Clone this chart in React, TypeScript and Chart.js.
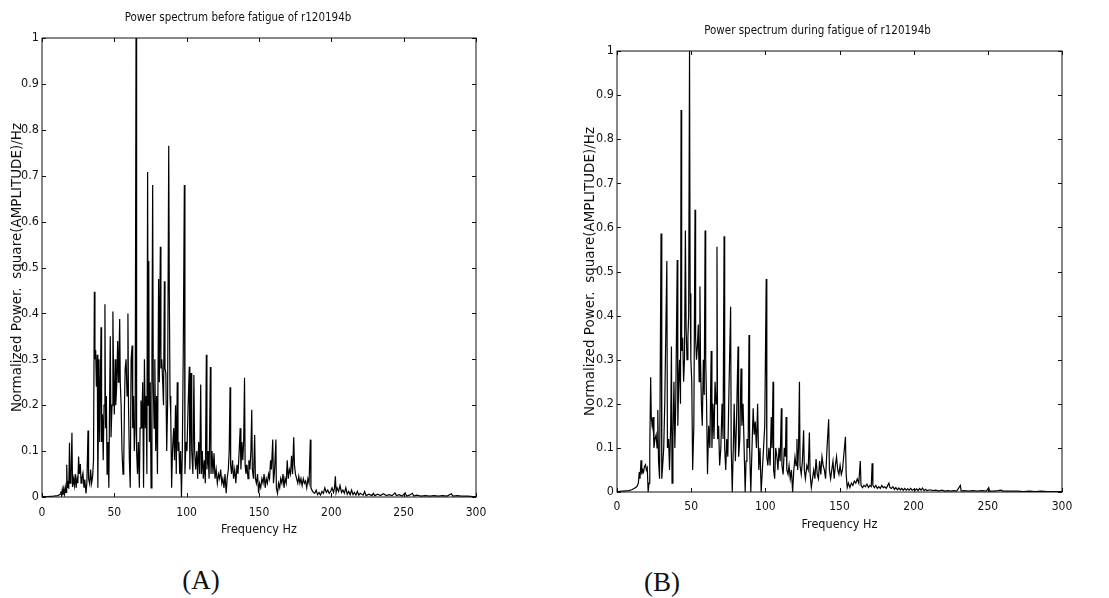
import React, { useEffect, useRef } from "react";
import { Chart, registerables } from "chart.js";

Chart.register(...registerables);

// ---------- text ----------
const titleA = "Power spectrum before fatigue of r120194b";
const titleB = "Power spectrum during fatigue of r120194b";
const xAxisTitle = "Frequency Hz";
const yAxisTitle = "Normalized Power.  square(AMPLITUDE)/Hz";
const captionA = "(A)";
const captionB = "(B)";

// ---------- tick values ----------
const xTickValues = [0, 50, 100, 150, 200, 250, 300];
const yTickValues = [0, 0.1, 0.2, 0.3, 0.4, 0.5, 0.6, 0.7, 0.8, 0.9, 1];

// ---------- spectrum A (before fatigue): frequency (Hz) / normalized power ----------
const freqA = [
  0, 4, 8, 11, 12.5, 13, 13.5, 14, 14.5, 15,
  15.6, 16.1, 16.6, 17.1, 17.5, 18, 18.5, 19, 19.4, 20,
  20.7, 21.1, 21.8, 22.4, 23, 23.6, 24.2, 24.8, 25.3, 25.8,
  26.5, 27, 27.6, 28.3, 29, 29.6, 30.4, 31, 31.8, 32.2,
  33, 33.6, 34.3, 35, 35.6, 36.2, 36.6, 37.1, 37.6, 38.2,
  38.6, 39.4, 39.9, 40.8, 41.2, 41.8, 42.3, 42.9, 43.5, 43.9,
  44.5, 45, 45.6, 46.2, 46.7, 47.2, 47.7, 48.4, 49, 49.5,
  50, 50.6, 51, 51.6, 52.3, 52.8, 53.2, 53.7, 54.1, 54.7,
  55.3, 56, 56.5, 57, 57.5, 58.1, 58.8, 59.4, 59.8, 60.4,
  61, 61.6, 62.3, 62.7, 63.3, 63.8, 64.4, 65, 65.4, 66,
  66.6, 67.3, 67.8, 68.4, 69, 69.6, 70.2, 70.8, 71.4, 72,
  72.5, 73, 73.4, 73.8, 74.2, 74.8, 75.4, 76, 76.5, 76.9,
  77.5, 78, 78.6, 79.2, 79.8, 80.6, 81.1, 81.8, 82.2, 82.8,
  83.3, 84, 84.6, 85, 85.6, 86.2, 86.8, 87.6, 88, 88.5,
  89, 89.6, 90.2, 91, 91.6, 92.3, 92.8, 93.5, 94, 94.6,
  95.2, 95.8, 96.4, 97, 97.6, 98.4, 98.8, 99.5, 100.2, 101,
  101.8, 102.2, 102.6, 103, 103.5, 104.3, 105, 105.5, 106.2, 107,
  107.6, 108.3, 109, 109.7, 110.2, 110.8, 111.5, 112.2, 112.9, 113.6,
  114, 114.8, 115.5, 116.4, 116.8, 117.5, 118.2, 118.9, 119.6, 120.4,
  121.2, 122, 122.8, 123.5, 124.3, 125, 125.8, 126.5, 127.3, 128,
  128.8, 129.4, 130, 130.4, 131, 131.7, 132.4, 133.2, 134, 134.8,
  135.5, 136.3, 137, 137.5, 138.2, 138.8, 139.4, 140, 140.4, 141,
  141.7, 142.4, 143, 143.7, 144.4, 145, 145.4, 146.2, 147, 147.5,
  148.2, 149, 149.7, 150.4, 151.2, 152, 152.8, 153.5, 154.3, 155,
  155.8, 156.6, 157.3, 158, 158.6, 159.5, 160, 160.8, 161.7, 162,
  162.8, 163.5, 164.3, 165, 165.8, 166.6, 167.3, 168, 168.8, 169.5,
  170.2, 171, 171.8, 172.5, 173.2, 174, 174.5, 175.2, 176, 176.8,
  177.5, 178.3, 179, 179.8, 180.6, 181.4, 182.2, 183, 183.8, 184.6,
  185.5, 185.9, 186.6, 187.5, 188.5, 189.5, 190.5, 191.5, 192.5, 193.5,
  194.5, 195.5, 196.5, 197.5, 198.5, 199.5, 200.5, 201.5, 202.2, 202.8,
  203.3, 204, 205, 206, 207, 208, 209, 210, 211, 212,
  213, 214, 215, 216, 217, 218, 219, 220, 222, 223,
  224, 226, 228, 229, 230, 232, 234, 236, 238, 240,
  242, 244, 245, 247, 249, 251, 252, 254, 256, 257,
  259, 262, 265, 268, 271, 274, 277, 280, 283, 284,
  287, 290, 294, 298, 300,
];
const powerA = [
  0.001, 0.001, 0.002, 0.003, 0.006, 0.012, 0.003, 0.016, 0.004, 0.018,
  0.006, 0.022, 0.01, 0.07, 0.02, 0.035, 0.018, 0.118, 0.03, 0.042,
  0.14, 0.022, 0.04, 0.025, 0.05, 0.02, 0.04, 0.03, 0.088, 0.05,
  0.072, 0.03, 0.042, 0.052, 0.02, 0.038, 0.008, 0.03, 0.145, 0.04,
  0.028, 0.06, 0.03, 0.045, 0.08, 0.447, 0.3, 0.32, 0.24, 0.31,
  0.02, 0.3, 0.12, 0.37, 0.12, 0.18, 0.08, 0.2, 0.42, 0.15,
  0.22, 0.05, 0.12, 0.02, 0.2, 0.35, 0.13, 0.2, 0.404, 0.25,
  0.18, 0.3, 0.2, 0.24, 0.34, 0.25, 0.3, 0.388, 0.25, 0.2,
  0.1, 0.05, 0.07, 0.2, 0.28, 0.3, 0.22, 0.4, 0.2, 0.08,
  0.02, 0.3, 0.33, 0.15, 0.22, 0.1, 0.15, 1.0, 0.1, 0.05,
  0.12, 0.02, 0.15, 0.21, 0.15, 0.25, 0.02, 0.3, 0.15, 0.22,
  0.05, 0.708, 0.2, 0.514, 0.12, 0.25, 0.02, 0.3, 0.68, 0.25,
  0.15, 0.3, 0.1, 0.22, 0.05, 0.475, 0.25, 0.545, 0.28, 0.3,
  0.26, 0.2, 0.47, 0.28, 0.27, 0.1, 0.2, 0.765, 0.45, 0.22,
  0.18, 0.02, 0.1, 0.15, 0.08, 0.2, 0.05, 0.25, 0.1, 0.12,
  0.05, 0.1, 0.0, 0.1, 0.3, 0.68, 0.05, 0.12, 0.1, 0.2,
  0.284, 0.06, 0.15, 0.27, 0.1, 0.05, 0.266, 0.1, 0.06, 0.1,
  0.04, 0.12, 0.05, 0.245, 0.05, 0.1, 0.04, 0.08, 0.03, 0.31,
  0.06, 0.1, 0.04, 0.283, 0.05, 0.1, 0.05, 0.095, 0.04, 0.06,
  0.03, 0.05, 0.04, 0.06, 0.03, 0.04, 0.02, 0.05, 0.008, 0.04,
  0.06, 0.1, 0.239, 0.07, 0.05, 0.08, 0.04, 0.06, 0.03, 0.07,
  0.05, 0.1, 0.15, 0.06, 0.12, 0.08, 0.12, 0.26, 0.07, 0.05,
  0.07, 0.04, 0.08, 0.06, 0.1, 0.19, 0.06, 0.04, 0.135, 0.04,
  0.03, 0.05, 0.008, 0.03, 0.02, 0.04, 0.03, 0.05, 0.02, 0.04,
  0.03, 0.05, 0.04, 0.08, 0.06, 0.125, 0.03, 0.06, 0.125, 0.02,
  0.008, 0.03, 0.02, 0.04, 0.03, 0.05, 0.02, 0.04, 0.03, 0.08,
  0.04, 0.06, 0.05, 0.09, 0.05, 0.13, 0.07, 0.05, 0.04, 0.03,
  0.045, 0.03, 0.04, 0.025, 0.04, 0.03, 0.035, 0.02, 0.04, 0.03,
  0.125, 0.02, 0.015, 0.01, 0.008, 0.015, 0.005, 0.01, 0.004, 0.012,
  0.008, 0.02, 0.01, 0.015, 0.008, 0.012, 0.02, 0.01, 0.02, 0.045,
  0.01, 0.02, 0.012, 0.025, 0.01, 0.015, 0.008, 0.02, 0.006, 0.012,
  0.005, 0.015, 0.005, 0.01, 0.004, 0.012, 0.004, 0.008, 0.004, 0.012,
  0.003, 0.006, 0.003, 0.008, 0.003, 0.006, 0.003, 0.007, 0.003, 0.005,
  0.003, 0.009, 0.003, 0.005, 0.002, 0.009, 0.002, 0.004, 0.008, 0.002,
  0.004, 0.002, 0.003, 0.002, 0.003, 0.002, 0.003, 0.002, 0.007, 0.002,
  0.003, 0.002, 0.002, 0.001, 0.001,
];

// ---------- spectrum B (during fatigue): frequency (Hz) / normalized power ----------
const freqB = [
  0, 4, 8, 10, 11.5, 12.5, 13.5, 14.4, 15, 15.5,
  16.2, 16.7, 17.3, 17.9, 18.5, 19.2, 19.8, 20.4, 21, 21.6,
  22.1, 22.7, 23.1, 23.7, 24.3, 24.9, 25.6, 26.4, 27, 27.5,
  28, 28.7, 29.7, 30.2, 30.8, 31.5, 32.2, 33.6, 34, 34.8,
  35.4, 36.2, 36.7, 37.1, 37.7, 38.4, 39, 39.6, 40.6, 41,
  41.6, 42.2, 42.8, 43.2, 43.6, 44.3, 44.9, 45.5, 46.1, 46.6,
  47.2, 47.8, 48.3, 48.9, 49.3, 49.8, 50.4, 51, 51.8, 52.6,
  53, 53.6, 54.2, 54.8, 55.4, 55.9, 56.3, 56.9, 57.5, 58.2,
  58.8, 59.4, 59.8, 60.4, 61, 61.8, 62.6, 63.5, 64, 64.7,
  65.4, 66.1, 66.8, 67.4, 67.8, 68.5, 69.2, 70, 70.8, 71.5,
  72.2, 72.6, 73.3, 74, 74.7, 75.3, 76.6, 77, 77.7, 78.4,
  79, 79.8, 80.5, 81.6, 82, 82.8, 83.6, 84.2, 85, 86.4,
  87, 87.6, 88.4, 89, 89.4, 90.2, 91, 91.8, 92.5, 93.2,
  94, 94.8, 95.6, 96.4, 97.2, 98, 98.8, 99.6, 100.6, 101,
  101.7, 102.4, 103.2, 104, 104.5, 105.2, 105.6, 106.3, 107, 107.8,
  108.5, 109.2, 110, 110.8, 111.2, 112, 112.8, 113.5, 114, 114.5,
  115.3, 116, 116.8, 117.6, 118.4, 119.2, 120, 120.7, 121.3, 121.8,
  122.4, 123, 123.4, 124.2, 125, 125.8, 126.3, 127, 128, 128.9,
  129.7, 130.2, 131, 131.8, 132.6, 133.4, 134.2, 135, 135.8, 136.6,
  137.4, 138.2, 139, 139.8, 140.6, 141.6, 142.7, 143.2, 144, 144.8,
  145.6, 146.4, 147.2, 148, 148.8, 149.6, 150.4, 151.2, 152, 152.8,
  154, 154.5, 155.2, 156, 157, 158, 159, 160, 161, 162,
  163, 164, 164.5, 165.5, 166.5, 167.5, 168.5, 169.5, 170.5, 171.4,
  172, 172.5, 173.5, 174.5, 175.5, 176.5, 177.5, 178.5, 179.5, 180.5,
  181.5, 182.5, 183.3, 184, 185, 186, 187, 188, 189, 190,
  191, 192, 193, 194, 195, 196, 197, 198, 199, 200,
  201, 202, 203, 204, 205, 206, 207, 208, 209, 211,
  213, 215, 217, 219, 221, 223, 225, 227, 229, 231.5,
  232, 234, 237, 240, 243, 246, 249, 250.6, 251.2, 254,
  257, 259, 260, 263, 266, 270, 274, 278, 282, 286,
  290, 294, 297, 300,
];
const powerB = [
  0.001, 0.002, 0.003, 0.005, 0.008, 0.01, 0.013, 0.02, 0.045, 0.03,
  0.072, 0.04, 0.05, 0.045, 0.058, 0.062, 0.05, 0.055, 0.0, 0.02,
  0.1, 0.26, 0.17, 0.15, 0.17, 0.1, 0.12, 0.13, 0.1, 0.186,
  0.07, 0.03, 0.586, 0.03, 0.06, 0.1, 0.2, 0.524, 0.1, 0.12,
  0.05, 0.15, 0.33, 0.02, 0.12, 0.25, 0.1, 0.2, 0.526, 0.15,
  0.25, 0.3, 0.2, 0.866, 0.32, 0.35, 0.25, 0.3, 0.593, 0.37,
  0.3, 0.35, 0.4, 1.0, 0.45, 0.3, 0.25, 0.05, 0.15, 0.64,
  0.35, 0.3, 0.33, 0.38, 0.25, 0.466, 0.3, 0.2, 0.15, 0.3,
  0.22, 0.593, 0.3, 0.2, 0.04, 0.15, 0.1, 0.32, 0.1, 0.2,
  0.12, 0.25, 0.2, 0.556, 0.12, 0.15, 0.06, 0.1, 0.2, 0.12,
  0.58, 0.1, 0.05, 0.12, 0.08, 0.2, 0.42, 0.1, 0.0, 0.1,
  0.2, 0.07, 0.15, 0.33, 0.08, 0.12, 0.28, 0.15, 0.2, 0.0,
  0.07, 0.12, 0.1, 0.356, 0.1, 0.0, 0.1, 0.19, 0.13, 0.16,
  0.1, 0.2, 0.05, 0.1, 0.0, 0.05, 0.1, 0.15, 0.483, 0.08,
  0.06, 0.1, 0.06, 0.17, 0.1, 0.25, 0.05, 0.03, 0.1, 0.08,
  0.05, 0.1, 0.07, 0.19, 0.06, 0.04, 0.1, 0.08, 0.17, 0.05,
  0.04, 0.06, 0.03, 0.05, 0.0, 0.05, 0.08, 0.06, 0.12, 0.05,
  0.1, 0.25, 0.06, 0.04, 0.07, 0.14, 0.05, 0.03, 0.06, 0.05,
  0.135, 0.04, 0.01, 0.03, 0.05, 0.03, 0.075, 0.04, 0.03, 0.07,
  0.04, 0.08, 0.06, 0.05, 0.03, 0.1, 0.165, 0.05, 0.03, 0.05,
  0.07, 0.03, 0.06, 0.08, 0.05, 0.04, 0.06, 0.04, 0.05, 0.08,
  0.125, 0.04, 0.01, 0.02, 0.01, 0.02, 0.015, 0.025, 0.02, 0.03,
  0.02, 0.07, 0.015, 0.01, 0.015, 0.012, 0.018, 0.01, 0.015, 0.012,
  0.065, 0.015, 0.01, 0.015, 0.008, 0.012, 0.008, 0.015, 0.01, 0.012,
  0.008, 0.015, 0.02, 0.01, 0.008, 0.012, 0.006, 0.01, 0.005, 0.009,
  0.005, 0.008, 0.004, 0.008, 0.004, 0.007, 0.004, 0.008, 0.004, 0.006,
  0.004, 0.007, 0.003, 0.008, 0.004, 0.009, 0.003, 0.006, 0.003, 0.005,
  0.003, 0.004, 0.002, 0.004, 0.002, 0.003, 0.002, 0.003, 0.002, 0.015,
  0.002, 0.003, 0.002, 0.003, 0.002, 0.003, 0.002, 0.01, 0.002, 0.002,
  0.003, 0.004, 0.002, 0.002, 0.002, 0.002, 0.001, 0.002, 0.001, 0.002,
  0.001, 0.001, 0.001, 0.001,
];

// ---------- styling ----------
const NARROW = '"Liberation Sans Narrow", "DejaVu Sans Condensed", "Liberation Sans", Arial, sans-serif';
const WIDE = '"DejaVu Sans", "Liberation Sans", Arial, sans-serif';
const INK = "#111";

const formatTick = (v: number | string) => String(Math.round(Number(v) * 10) / 10);

const framePlugin = {
  id: "matlabFrame",
  afterDatasetsDraw(chart: any) {
    const { ctx, chartArea, scales } = chart;
    const { left, right, top, bottom } = chartArea;
    const xs = scales.x;
    const ys = scales.y;
    const tl = 4;
    ctx.save();
    ctx.strokeStyle = INK;
    ctx.lineWidth = 1;
    ctx.strokeRect(left, top, right - left, bottom - top);
    ctx.beginPath();
    xTickValues.forEach((v) => {
      const px = Math.round(xs.getPixelForValue(v)) + 0.5;
      ctx.moveTo(px, bottom);
      ctx.lineTo(px, bottom - tl);
      ctx.moveTo(px, top);
      ctx.lineTo(px, top + tl);
    });
    yTickValues.forEach((v) => {
      const py = Math.round(ys.getPixelForValue(v)) + 0.5;
      ctx.moveTo(left, py);
      ctx.lineTo(left + tl, py);
      ctx.moveTo(right, py);
      ctx.lineTo(right - tl, py);
    });
    ctx.stroke();
    ctx.restore();
  },
};

type Geometry = {
  yWidth: number;
  xHeight: number;
  padRight: number;
  titleTop: number;
  titleBottom: number;
  yTitlePad: number;
  xTitlePad: number;
  xTickPad: number;
};

function SpectrumChart(props: {
  freq: number[];
  power: number[];
  title: string;
  geo: Geometry;
  box: { left: number; top: number; width: number; height: number };
}) {
  const ref = useRef<HTMLCanvasElement | null>(null);
  const { freq, power, title, geo, box } = props;

  useEffect(() => {
    if (!ref.current) return;
    const points = freq.map((f, i) => ({ x: f, y: power[i] }));
    const chart = new Chart(ref.current, {
      type: "line",
      data: {
        datasets: [
          {
            data: points,
            borderColor: "#000",
            borderWidth: 1.2,
            pointRadius: 0,
            tension: 0,
            fill: false,
          },
        ],
      },
      options: {
        animation: false,
        responsive: true,
        maintainAspectRatio: false,
        layout: { padding: { left: 0, right: geo.padRight, top: 0, bottom: 0 } },
        plugins: {
          legend: { display: false },
          tooltip: { enabled: false },
          title: {
            display: true,
            text: title,
            color: INK,
            font: { family: NARROW, size: 11.5, weight: "normal" },
            padding: { top: geo.titleTop, bottom: geo.titleBottom },
          },
        },
        scales: {
          x: {
            type: "linear",
            min: 0,
            max: 300,
            afterFit: (s: any) => {
              s.height = geo.xHeight;
            },
            afterBuildTicks: (s: any) => {
              s.ticks = xTickValues.map((v) => ({ value: v }));
            },
            grid: { display: false, drawTicks: false },
            border: { display: false },
            ticks: {
              color: INK,
              padding: geo.xTickPad,
              maxRotation: 0,
              autoSkip: false,
              callback: formatTick,
              font: { family: NARROW, size: 12 },
            },
            title: {
              display: true,
              text: xAxisTitle,
              color: INK,
              font: { family: NARROW, size: 12.5 },
              padding: { top: 0, bottom: geo.xTitlePad },
            },
          },
          y: {
            type: "linear",
            min: 0,
            max: 1,
            afterFit: (s: any) => {
              s.width = geo.yWidth;
            },
            afterBuildTicks: (s: any) => {
              s.ticks = yTickValues.map((v) => ({ value: v }));
            },
            grid: { display: false, drawTicks: false },
            border: { display: false },
            ticks: {
              color: INK,
              padding: 3,
              autoSkip: false,
              callback: formatTick,
              font: { family: NARROW, size: 12.5 },
            },
            title: {
              display: true,
              text: yAxisTitle,
              color: INK,
              font: { family: WIDE, size: 13.5 },
              padding: { top: geo.yTitlePad, bottom: 0 },
            },
          },
        },
      },
      plugins: [framePlugin],
    } as any);
    return () => chart.destroy();
  }, []);

  return (
    <div
      style={{
        position: "absolute",
        left: box.left,
        top: box.top,
        width: box.width,
        height: box.height,
      }}
    >
      <canvas ref={ref} />
    </div>
  );
}

const captionStyle: React.CSSProperties = {
  position: "absolute",
  fontFamily: '"Liberation Serif", "Times New Roman", serif',
  fontSize: 27,
  lineHeight: 1,
  color: "#111",
  transform: "translate(-50%, -50%)",
  whiteSpace: "nowrap",
};

export default function App() {
  return (
    <div
      style={{
        position: "absolute",
        left: 0,
        top: 0,
        width: 1109,
        height: 598,
        background: "#fff",
        overflow: "hidden",
      }}
    >
      <SpectrumChart
        freq={freqA}
        power={powerA}
        title={titleA}
        box={{ left: 0, top: 0, width: 510, height: 545 }}
        geo={{
          yWidth: 42,
          xHeight: 48,
          padRight: 34,
          titleTop: 11.5,
          titleBottom: 12.7,
          yTitlePad: 8.9,
          xTitlePad: 7.5,
          xTickPad: 9,
        }}
      />
      <SpectrumChart
        freq={freqB}
        power={powerB}
        title={titleB}
        box={{ left: 573, top: 0, width: 536, height: 545 }}
        geo={{
          yWidth: 44,
          xHeight: 53,
          padRight: 47,
          titleTop: 24.5,
          titleBottom: 12.7,
          yTitlePad: 9.2,
          xTitlePad: 12.5,
          xTickPad: 7.4,
        }}
      />
      <div style={{ ...captionStyle, left: 201, top: 580 }}>{captionA}</div>
      <div style={{ ...captionStyle, left: 662, top: 582 }}>{captionB}</div>
    </div>
  );
}
